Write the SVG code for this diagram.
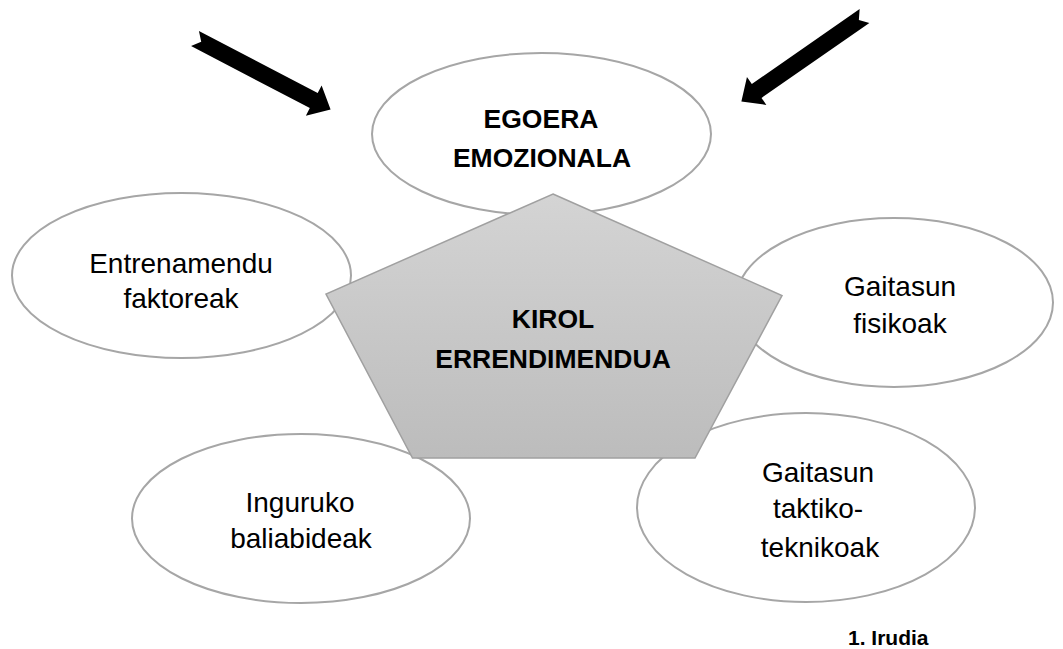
<svg xmlns="http://www.w3.org/2000/svg" width="1063" height="649" viewBox="0 0 1063 649">
  <defs>
    <linearGradient id="pentaFill" x1="0" y1="0" x2="0" y2="1">
      <stop offset="0" stop-color="#d4d4d4"/>
      <stop offset="1" stop-color="#bcbcbc"/>
    </linearGradient>
    <!-- notched block arrow pointing along +x, tail at origin -->
    <path id="blockArrow" d="M0,-8.5 L134,-8.5 L134,-17 L153,0 L134,17 L134,8.5 L0,8.5 L7,0 Z"/>
    <style>
      .bubble { fill: #ffffff; stroke: #a6a6a6; stroke-width: 2; }
      .penta { fill: url(#pentaFill); stroke: #a0a0a0; stroke-width: 1.5; }
      .lbl { font-family: "Liberation Sans", Arial, sans-serif; font-size: 28px; fill: #000; text-anchor: middle; }
      .lblb { font-family: "Liberation Sans", Arial, sans-serif; font-size: 26.5px; font-weight: bold; fill: #000; text-anchor: middle; }
      .cap { font-family: "Liberation Sans", Arial, sans-serif; font-size: 21px; font-weight: bold; fill: #000; }
      .arrow { fill: #000; }
    </style>
  </defs>

  <g id="connectors">
    <use href="#blockArrow" class="arrow" transform="translate(195,38.5) rotate(27.6)"/>
    <use href="#blockArrow" class="arrow" transform="translate(864.5,16) rotate(145.2) scale(0.98,1)"/>
  </g>

  <g id="node-egoera">
    <ellipse class="bubble" cx="541.5" cy="134" rx="169.5" ry="81"/>
    <text class="lblb" x="541" y="128">EGOERA</text>
    <text class="lblb" x="542" y="167">EMOZIONALA</text>
  </g>

  <g id="node-entrenamendu">
    <ellipse class="bubble" cx="181.5" cy="275.5" rx="169.5" ry="82.5"/>
    <text class="lbl" x="181" y="273">Entrenamendu</text>
    <text class="lbl" x="181" y="308">faktoreak</text>
  </g>

  <g id="node-fisikoak">
    <ellipse class="bubble" cx="894" cy="302.5" rx="159" ry="84.5"/>
    <text class="lbl" x="900" y="296">Gaitasun</text>
    <text class="lbl" x="900" y="333">fisikoak</text>
  </g>

  <g id="node-inguruko">
    <ellipse class="bubble" cx="301" cy="518.5" rx="169" ry="84.5"/>
    <text class="lbl" x="300" y="512">Inguruko</text>
    <text class="lbl" x="301" y="548">baliabideak</text>
  </g>

  <g id="node-taktiko">
    <ellipse class="bubble" cx="806" cy="507.5" rx="169" ry="94.5"/>
    <text class="lbl" x="818" y="482">Gaitasun</text>
    <text class="lbl" x="818" y="518">taktiko-</text>
    <text class="lbl" x="820" y="557">teknikoak</text>
  </g>

  <g id="node-kirol">
    <polygon class="penta" points="553,194 782,295.5 695,458 412.5,458 326,294"/>
    <text class="lblb" x="553" y="328">KIROL</text>
    <text class="lblb" x="553" y="368">ERRENDIMENDUA</text>
  </g>

  <text class="cap" x="848" y="645">1. Irudia</text>
</svg>
